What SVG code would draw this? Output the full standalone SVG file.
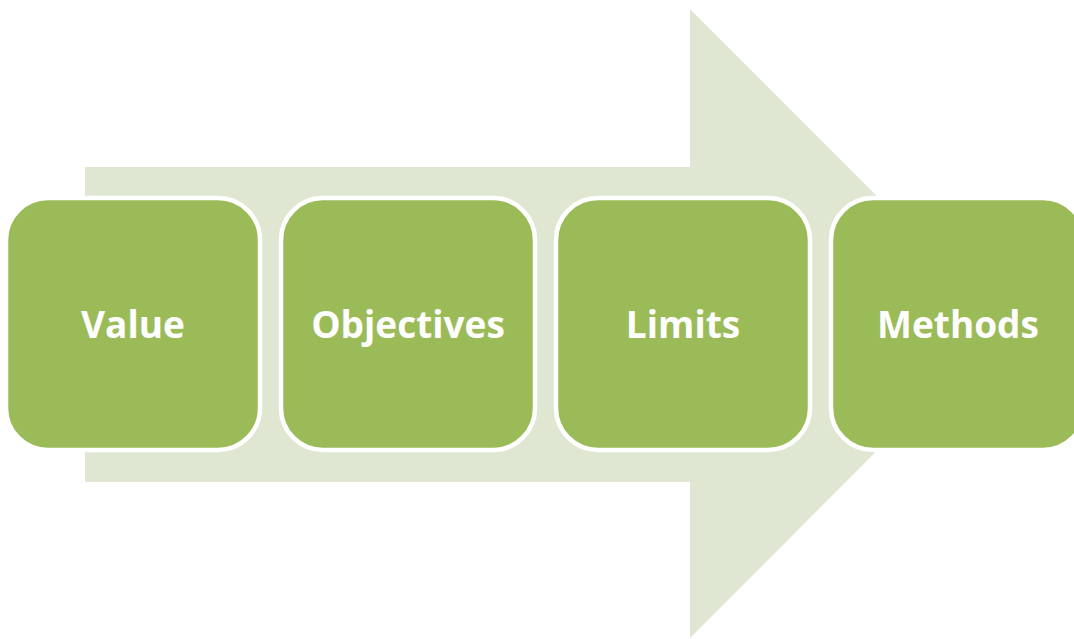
<svg xmlns="http://www.w3.org/2000/svg" width="1074" height="639" viewBox="0 0 1074 639">
<style>
.box{fill:#9BBB59;stroke:#FFFFFF;stroke-width:4.5}
.lbl{font-family:"Open Sans","Liberation Sans",sans-serif;font-weight:bold;font-size:37px;fill:#FFFFFF;text-anchor:middle}
</style>
<rect width="1074" height="639" fill="#FFFFFF"/>
<g id="arrow">
<polygon points="85,167 690,167 690,9 1004,323.5 690,638 690,482 85,482" fill="#DFE7D3"/>
</g>
<g id="connectors"/>
<g id="node-value">
<rect class="box" x="6" y="198" width="254" height="252" rx="42" ry="42"/>
<text class="lbl" x="133" y="338">Value</text>
</g>
<g id="node-objectives">
<rect class="box" x="281" y="198" width="254" height="252" rx="42" ry="42"/>
<text class="lbl" x="408" y="338">Objectives</text>
</g>
<g id="node-limits">
<rect class="box" x="556" y="198" width="254" height="252" rx="42" ry="42"/>
<text class="lbl" x="683" y="338">Limits</text>
</g>
<g id="node-methods">
<rect class="box" x="831" y="198" width="254" height="252" rx="42" ry="42"/>
<text class="lbl" x="958" y="338">Methods</text>
</g>
</svg>
